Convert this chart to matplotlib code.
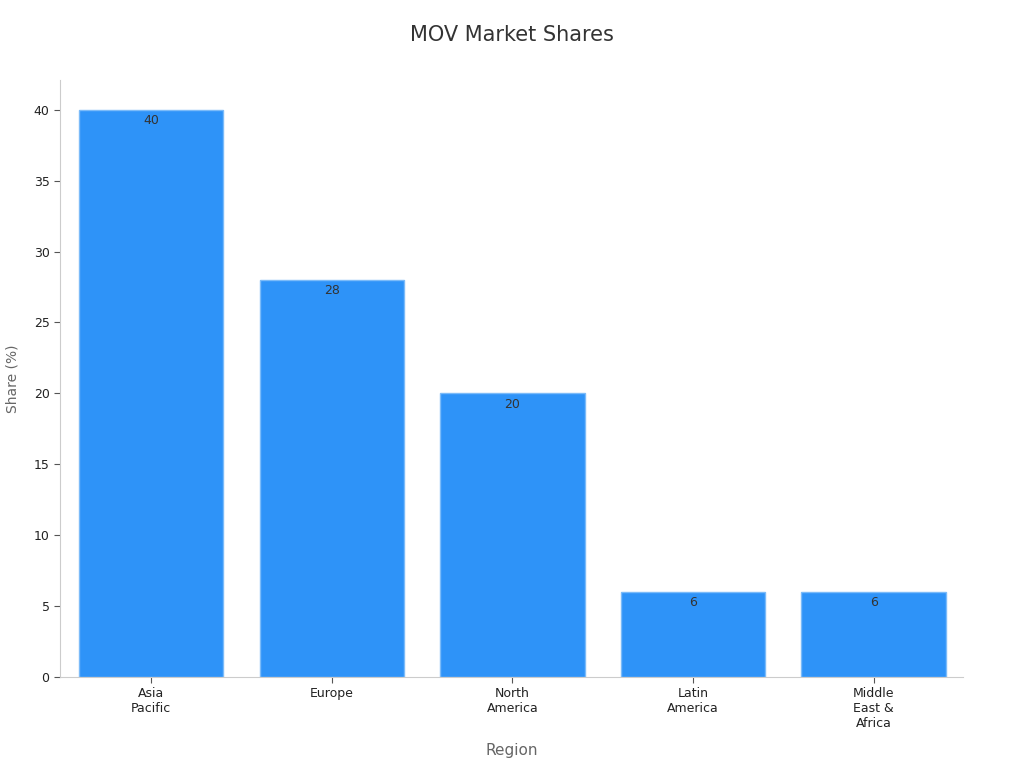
import matplotlib.pyplot as plt

# data
regions = ['Asia\nPacific', 'Europe', 'North\nAmerica', 'Latin\nAmerica', 'Middle\nEast &\nAfrica']
shares = [40, 28, 20, 6, 6]

fig = plt.figure(figsize=(10.24, 7.68), dpi=100)
ax = fig.add_axes([0.0586, 0.1185, 0.8818, 0.7773])

x = range(len(regions))
bars = ax.bar([i + 0.005 for i in x], shares, width=0.8, color='#2E93F8', edgecolor='#7BBBF9', linewidth=1)

for b, v in zip(bars, shares):
    ax.text(b.get_x() + b.get_width() / 2, v - 0.3, str(v), ha='center', va='top',
            fontsize=9, color='#333333')

ax.set_xlim(-0.5, 4.5)
ax.set_ylim(0, 42.1)
ax.set_yticks([0, 5, 10, 15, 20, 25, 30, 35, 40])
ax.set_xticks([i + 0.005 for i in x])
ax.set_xticklabels(regions, fontsize=9, color='#222222')
ax.tick_params(axis='y', labelsize=9, labelcolor='#222222', color='#555555', length=4)
ax.tick_params(axis='x', color='#555555', length=4)

for s in ['top', 'right']:
    ax.spines[s].set_visible(False)
for s in ['left', 'bottom']:
    ax.spines[s].set_color('#cccccc')

ax.set_xlabel('Region', fontsize=11, color='#666666', labelpad=9)
ax.set_ylabel('Share (%)', fontsize=10, color='#666666', labelpad=10)
fig.suptitle('MOV Market Shares', fontsize=15, color='#333333', y=0.968)

fig.savefig('out.png', dpi=100)
